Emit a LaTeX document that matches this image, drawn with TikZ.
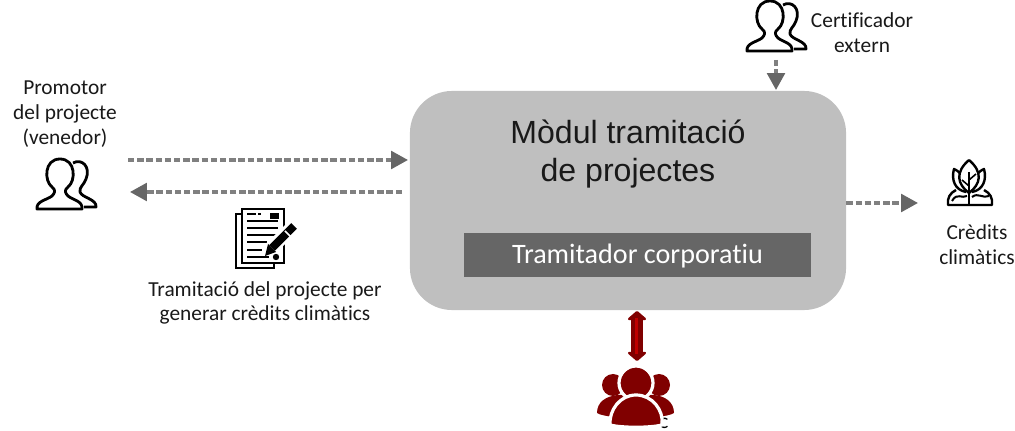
\documentclass[tikz,border=0pt]{standalone}
\usepackage{fontspec}
\setmainfont[Ligatures={NoCommon,NoRequired,NoContextual}]{Carlito}
\newfontfamily\titlefont{Liberation Sans}
\usetikzlibrary{arrows.meta}
\tikzset{
  lbl/.style={align=center,font=\fontsize{15.2}{17.6}\selectfont,text=black!90,inner sep=0pt},
  flow/.style={draw=black!50,line width=0.08cm,dash pattern=on 0.16cm off 0.07cm,-{Triangle[color=black!60,length=0.42cm,width=0.44cm]}},
  persons/.pic={
    \draw[line width=0.07cm,line join=round]
      (-23,0) .. controls (-24,-8) and (-13,-9) .. (-8,-13) .. controls (-5,-16) and (-4,-19) .. (-8,-22)
      .. controls (-16,-28) and (-16,-50) .. (0,-50) .. controls (16,-50) and (16,-28) .. (8,-22)
      .. controls (4,-19) and (5,-16) .. (8,-13) .. controls (13,-9) and (23,-8) .. (22,0) -- cycle;
    \draw[line width=0.07cm,line join=round]
      (13,-46) .. controls (22,-51) and (31,-42) .. (26,-30) .. controls (24,-24) and (19,-22) .. (20,-17)
      .. controls (22,-11) and (37,-10) .. (36,-2) -- (24,-2);
  },
}
\begin{document}
\begin{tikzpicture}[x=0.025cm,y=-0.025cm]
  \useasboundingbox (0,0) rectangle (1015,431);
  \node (proj) [fill=black!25,rounded corners=1.05cm,minimum width=10.9cm,minimum height=5.475cm,inner sep=0pt] at (628,200.5) {};
  \node (title) [align=center,font=\titlefont\fontsize{22.8}{27}\selectfont,text=black!90,inner sep=0pt] at (628,154) {Mòdul tramitació\\de projectes};
  \node (corp) [fill=black!60,text=white,minimum width=8.675cm,minimum height=1.1cm,inner sep=0pt,text height=0.52cm,text depth=0.1cm,font=\fontsize{20}{22}\selectfont] at (637.5,255) {Tramitador corporatiu};

  \node (prom) [lbl] at (65,114) {Promotor\\del projecte\\(venedor)};
  \pic at (60,209) {persons};
  \node (cert) [lbl] at (862,33) {Certificador\\extern};
  \pic at (770,51) {persons};
  \node (cred) [lbl] at (977,245) {Crèdits\\climàtics};
  \node (tram) [lbl] at (265,303) {Tramitació del projecte per\\generar crèdits climàtics};
  \node (usr) [font=\fontsize{15.2}{17.4}\selectfont,inner sep=0pt] at (664,423.5) {c};

  % document
  \draw[line width=0.07cm] (242,214) -- (236,214) -- (236,268) -- (274,268) -- (274,263);
  \draw[line width=0.07cm,fill=white] (242,209) rectangle (284,263);
  \draw[line width=0.05cm] (247,214) -- (256,214) (258,214) -- (261,214);
  \foreach \y in {221,228,235} \draw[line width=0.05cm] (247,\y) -- (278,\y);
  \draw[line width=0.05cm] (247,242) -- (267,242);
  \draw[line width=0.05cm] (247,250) -- (262,250);
  \draw[line width=0.05cm] (247,257) -- (269,257);
  \fill (270,213) rectangle (279,219);
  \draw[white,line width=0.34cm] (294,226) -- (267,252);
  \draw[line width=0.2cm] (294,226) -- (272,248);
  \draw[white,line width=0.04cm] (285,231) -- (291,237);
  \fill (268,244) -- (276,252) -- (265,256) -- cycle;
  \fill (276,257) circle (3.2);

  % leaf and globe
  \draw[line width=0.06cm,line join=round] (956,190) .. controls (950,193) and (947,198) .. (948,205) -- (992,205) .. controls (993,198) and (990,193) .. (984,190);
  \draw[line width=0.06cm,line join=round] (969,160) .. controls (955,172) and (957,184) .. (969,193) .. controls (981,184) and (983,172) .. (969,160);
  \draw[line width=0.06cm,line join=round] (960,173) .. controls (958,171) and (956,170) .. (954,169) .. controls (951,180) and (955,190) .. (966,192);
  \draw[line width=0.06cm,line join=round] (978,173) .. controls (980,171) and (982,170) .. (984,169) .. controls (987,180) and (983,190) .. (972,192);
  \draw[line width=0.05cm] (969,172) -- (969,204);
  \draw[line width=0.04cm] (969,180) -- (976,174) (969,186) -- (962,180);
  \draw[line width=0.05cm] (952,201) .. controls (957,192) and (962,199) .. (967,196);
  \draw[line width=0.05cm] (972,197) .. controls (978,192) and (983,199) .. (989,196);

  \coordinate (promOut) at (128,160);
  \coordinate (projIn) at (408,160);
  \coordinate (projOut) at (402,192);
  \coordinate (promIn) at (130,192);
  \coordinate (certOut) at (776,60);
  \coordinate (certIn) at (776,90);
  \coordinate (credIn) at (918,203);
  \draw[flow] (promOut) -- (projIn);
  \draw[flow] (projOut) -- (promIn);
  \draw[flow] (certOut) -- (certIn);
  \draw[flow] (proj.east |- credIn) -- (credIn);

  % usuaris
  \coordinate (usrTop) at (637,311);
  \coordinate (usrBot) at (637,361);
  \draw[draw=red!50!black,line width=0.3cm,{Triangle[length=0.24cm,width=0.54cm,round]}-{Triangle[length=0.24cm,width=0.54cm,round]}] (usrTop) -- (usrBot);
  \draw[draw=red!75!black,line width=0.08cm] (636.5,318) -- (636.5,354);
  \begin{scope}[fill=red!50!black]
    \fill (613,385) circle (11);
    \fill (659,385) circle (11);
    \fill (597,413) .. controls (597,402) and (606,396) .. (618,395) -- (640,395) -- (640,418) .. controls (625,418) and (603,417) .. (597,413) -- cycle;
    \fill (674,413) .. controls (674,402) and (665,396) .. (654,395) -- (632,395) -- (632,418) .. controls (647,418) and (668,417) .. (674,413) -- cycle;
    \draw[white,line width=0.08cm,fill=red!50!black] (636,383) circle (17);
    \draw[white,line width=0.08cm,fill=red!50!black] (610,425) .. controls (609,410) and (620,395) .. (636,395) .. controls (652,395) and (664,410) .. (662,425) .. controls (650,428) and (622,428) .. (610,425) -- cycle;
  \end{scope}
\end{tikzpicture}
\end{document}
